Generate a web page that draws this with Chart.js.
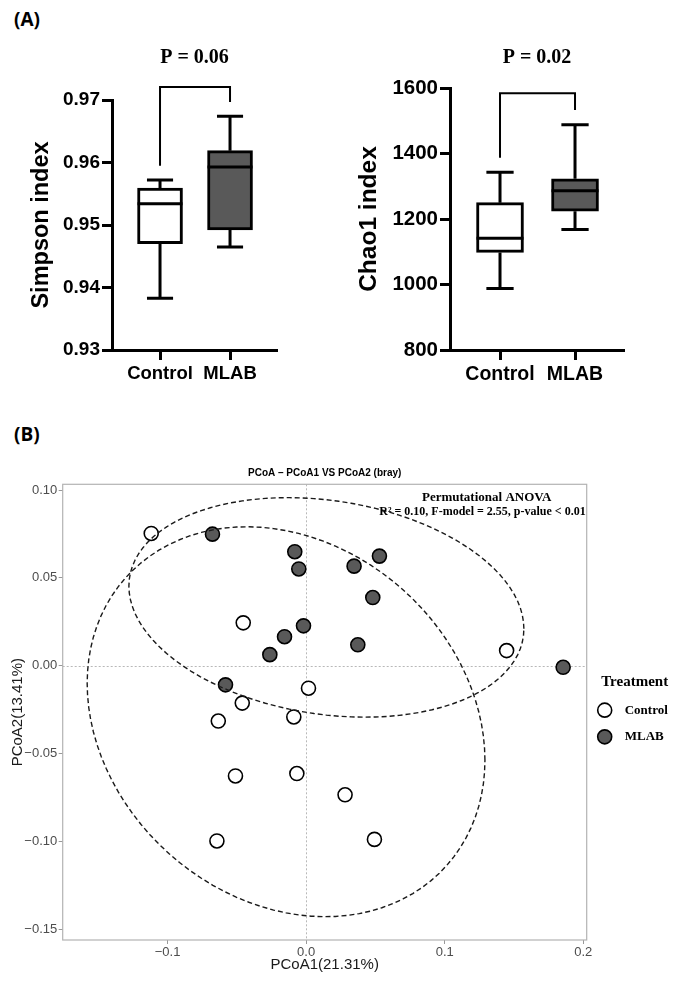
<!DOCTYPE html>
<html>
<head>
<meta charset="utf-8">
<script src="https://cdn.jsdelivr.net/npm/chart.js@4.4.0/dist/chart.umd.min.js"></script>
<style>
  body { margin: 0; background: #fff; width: 678px; height: 985px; position: relative; overflow: hidden; }
  .tag { position: absolute; font: bold 19px "Open Sans", Arial, sans-serif; color: #000; }
  canvas { position: absolute; }
</style>
</head>
<body>
<div class="tag" style="left:14px; top:6px;">(A)</div>
<div class="tag" style="left:14px; top:421px;">(B)</div>
<canvas id="simpsonChart" width="330" height="400" style="left:0; top:0;"></canvas>
<canvas id="chao1Chart" width="348" height="400" style="left:330px; top:0;"></canvas>
<canvas id="pcoaChart" width="678" height="545" style="left:0; top:440px;"></canvas>
<script>
// ---- data (A) box plots ----
const groups = ["Control", "MLAB"];

const simpsonMin    = [0.9383, 0.9465];
const simpsonQ1     = [0.9470, 0.9492];
const simpsonMedian = [0.9534, 0.9593];
const simpsonQ3     = [0.9559, 0.9619];
const simpsonMax    = [0.9572, 0.9674];
const simpsonTicks  = [0.93, 0.94, 0.95, 0.96, 0.97];

const chao1Min    = [988, 1168];
const chao1Q1     = [1098, 1224];
const chao1Median = [1141, 1286];
const chao1Q3     = [1250, 1323];
const chao1Max    = [1343, 1488];
const chao1Ticks  = [800, 1000, 1200, 1400, 1600];

// ---- data (B) PCoA ----
const controlPC1 = [-0.1118, -0.0454, 0.1447, 0.0017, -0.0461, -0.0634, -0.0089, -0.0510, -0.0067, -0.0644, 0.0281, 0.0493];
const controlPC2 = [0.0753, 0.0244, 0.0086, -0.0128, -0.0213, -0.0315, -0.0292, -0.0628, -0.0614, -0.0998, -0.0735, -0.0989];
const mlabPC1 = [-0.0676, -0.0082, -0.0053, -0.0019, -0.0156, -0.0262, 0.0529, 0.0346, 0.0481, 0.0373, 0.1855, -0.0582];
const mlabPC2 = [0.0749, 0.0649, 0.0551, 0.0227, 0.0165, 0.0063, 0.0624, 0.0567, 0.0388, 0.0119, -0.0009, -0.0109];
const pc1Ticks = [-0.1, 0.0, 0.1, 0.2];
const pc2Ticks = [-0.15, -0.10, -0.05, 0.00, 0.05, 0.10];

const SANS = '"Liberation Sans", Arial, sans-serif';
const SERIF = '"Liberation Serif", "Times New Roman", serif';

// whiskers, medians and the significance bracket, drawn through the chart scales
const boxWhiskers = {
    id: "boxWhiskers",
    afterDatasetsDraw(chart, args, o) {
        const { ctx, scales: { x, y } } = chart;
        const meta = chart.getDatasetMeta(0);
        ctx.save();
        ctx.strokeStyle = "#000";
        ctx.lineWidth = 3;
        meta.data.forEach((bar, i) => {
            const cx = bar.x, half = bar.width / 2, cap = half * 0.58;
            const yMin = y.getPixelForValue(o.min[i]);
            const yMax = y.getPixelForValue(o.max[i]);
            const yQ1 = y.getPixelForValue(o.q1[i]);
            const yQ3 = y.getPixelForValue(o.q3[i]);
            const yMed = y.getPixelForValue(o.median[i]);
            ctx.beginPath();
            ctx.moveTo(cx, yQ3); ctx.lineTo(cx, yMax);
            ctx.moveTo(cx - cap, yMax); ctx.lineTo(cx + cap, yMax);
            ctx.moveTo(cx, yQ1); ctx.lineTo(cx, yMin);
            ctx.moveTo(cx - cap, yMin); ctx.lineTo(cx + cap, yMin);
            ctx.moveTo(cx - half, yMed); ctx.lineTo(cx + half, yMed);
            ctx.stroke();
        });
        // bracket
        const b = o.bracket;
        const x1 = x.getPixelForValue(1), x2 = x.getPixelForValue(2);
        ctx.lineWidth = 2;
        ctx.beginPath();
        ctx.moveTo(x1, y.getPixelForValue(b.left));
        ctx.lineTo(x1, y.getPixelForValue(b.top));
        ctx.lineTo(x2, y.getPixelForValue(b.top));
        ctx.lineTo(x2, y.getPixelForValue(b.right));
        ctx.stroke();
        ctx.restore();
    }
};

function boxChart(id, s) {
    return new Chart(document.getElementById(id).getContext("2d"), {
        type: "bar",
        data: {
            datasets: [{
                data: groups.map((g, i) => ({ x: i + 1, y: [s.q1[i], s.q3[i]] })),
                backgroundColor: ["#ffffff", "#595959"],
                borderColor: "#000",
                borderWidth: 3,
                borderSkipped: false,
                barThickness: s.boxWidth,
            }],
        },
        options: {
            responsive: false,
            animation: false,
            layout: { padding: { left: 0, right: s.padRight, top: 0, bottom: 0 } },
            plugins: {
                legend: { display: false },
                tooltip: { enabled: false },
                title: {
                    display: true,
                    text: s.pText,
                    fullSize: false,
                    color: "#000",
                    font: { family: SERIF, size: 20, weight: "bold" },
                    padding: { top: 46, bottom: s.titleBottom },
                },
                boxWhiskers: { min: s.min, q1: s.q1, median: s.median, q3: s.q3, max: s.max, bracket: s.bracket },
            },
            scales: {
                x: {
                    type: "linear",
                    min: s.xMin,
                    max: s.xMax,
                    offset: false,
                    afterBuildTicks: sc => { sc.ticks = groups.map((g, i) => ({ value: i + 1 })); },
                    afterFit: sc => { sc.height = 50; },
                    ticks: {
                        callback: v => groups[v - 1],
                        color: "#000",
                        font: { family: SANS, size: s.catSize, weight: "bold" },
                        padding: 3,
                        maxRotation: 0,
                        autoSkip: false,
                    },
                    grid: { drawOnChartArea: false, tickLength: 10, tickWidth: 3, tickColor: "#000", offset: false },
                    border: { display: true, color: "#000", width: 3 },
                },
                y: {
                    min: s.ticks[0],
                    max: s.ticks[s.ticks.length - 1],
                    afterBuildTicks: sc => { sc.ticks = s.ticks.map(v => ({ value: v })); },
                    afterFit: sc => { sc.width = s.axisLeft; },
                    ticks: {
                        callback: s.fmt,
                        color: "#000",
                        font: { family: SANS, size: s.tickSize, weight: "bold" },
                        padding: 2,
                    },
                    grid: { drawOnChartArea: false, tickLength: 10, tickWidth: 3, tickColor: "#000" },
                    border: { display: true, color: "#000", width: 3 },
                    title: {
                        display: true,
                        text: s.yTitle,
                        color: "#000",
                        font: { family: SANS, size: s.titleSize, weight: "bold" },
                        padding: { top: s.yTitlePad, bottom: 0 },
                    },
                },
            },
        },
        plugins: [boxWhiskers],
    });
}

boxChart("simpsonChart", {
    min: simpsonMin, q1: simpsonQ1, median: simpsonMedian, q3: simpsonQ3, max: simpsonMax,
    ticks: simpsonTicks, fmt: v => v.toFixed(2),
    pText: "P = 0.06", titleBottom: 30,
    bracket: { top: 0.9721, left: 0.9595, right: 0.9697 },
    xMin: 0.314, xMax: 2.671, boxWidth: 45, padRight: 53, axisLeft: 112,
    yTitle: "Simpson index", titleSize: 23.5, yTitlePad: 27,
    tickSize: 19, catSize: 18.5,
});

boxChart("chao1Chart", {
    min: chao1Min, q1: chao1Q1, median: chao1Median, q3: chao1Q3, max: chao1Max,
    ticks: chao1Ticks, fmt: v => String(v),
    pText: "P = 0.02", titleBottom: 18,
    bracket: { top: 1584, left: 1387, right: 1533 },
    xMin: 0.3333, xMax: 2.653, boxWidth: 47, padRight: 54, axisLeft: 120,
    yTitle: "Chao1 index", titleSize: 24.5, yTitlePad: 25,
    tickSize: 20.5, catSize: 19.5,
});

// ---- group confidence ellipse: sample covariance, chi-square(2) 90% radius ----
function groupEllipse(xs, ys, level = 0.9, segments = 100) {
    const n = xs.length;
    const mx = xs.reduce((s, v) => s + v, 0) / n;
    const my = ys.reduce((s, v) => s + v, 0) / n;
    let a = 0, b = 0, c = 0;
    xs.forEach((x, i) => {
        const dx = x - mx, dy = ys[i] - my;
        a += dx * dx; b += dx * dy; c += dy * dy;
    });
    a /= n - 1; b /= n - 1; c /= n - 1;
    const radius = Math.sqrt(-2 * Math.log(1 - level));
    const r11 = Math.sqrt(a), r12 = b / r11, r22 = Math.sqrt(c - r12 * r12);
    const pts = [];
    for (let k = 0; k <= segments; k++) {
        const t = (k / segments) * 2 * Math.PI;
        const u = Math.cos(t), v = Math.sin(t);
        pts.push({ x: mx + radius * u * r11, y: my + radius * (u * r12 + v * r22) });
    }
    return pts;
}

const minus = s => s.replace("-", "\u2212");

const pcoaDecor = {
    id: "pcoaDecor",
    beforeDatasetsDraw(chart) {
        const { ctx, chartArea: ca, scales: { x, y } } = chart;
        ctx.save();
        ctx.strokeStyle = "#b8b8b8";
        ctx.lineWidth = 1;
        ctx.setLineDash([2, 2]);
        ctx.beginPath();
        const x0 = Math.round(x.getPixelForValue(0)) + 0.5;
        const y0 = Math.round(y.getPixelForValue(0)) + 0.5;
        ctx.moveTo(x0, ca.top); ctx.lineTo(x0, ca.bottom);
        ctx.moveTo(ca.left, y0); ctx.lineTo(ca.right, y0);
        ctx.stroke();
        ctx.restore();
    },
    afterDraw(chart) {
        const { ctx, chartArea: ca } = chart;
        ctx.save();
        ctx.strokeStyle = "#b3b3b3";
        ctx.lineWidth = 1.2;
        ctx.strokeRect(ca.left, ca.top, ca.right - ca.left, ca.bottom - ca.top);

        // PERMANOVA note
        ctx.fillStyle = "#000";
        ctx.textBaseline = "middle";
        ctx.textAlign = "center";
        ctx.font = "bold 13px " + SERIF;
        ctx.fillText("Permutational ANOVA", ca.right - 100, ca.top + 13);
        ctx.font = "bold 12px " + SERIF;
        ctx.textAlign = "right";
        ctx.fillText("R\u00b2 = 0.10, F-model = 2.55, p-value < 0.01", ca.right - 1, ca.top + 28);

        // legend
        const mid = (ca.top + ca.bottom) / 2;
        ctx.textAlign = "left";
        ctx.font = "bold 15px " + SERIF;
        ctx.fillText("Treatment", ca.right + 14.5, mid - 30.5);
        chart.data.datasets.slice(0, 2).forEach((ds, i) => {
            const cy = mid - 2 + i * 26.7;
            ctx.beginPath();
            ctx.arc(ca.right + 18, cy, 7, 0, 2 * Math.PI);
            ctx.fillStyle = ds.backgroundColor;
            ctx.fill();
            ctx.lineWidth = 1.6;
            ctx.strokeStyle = "#000";
            ctx.stroke();
            ctx.fillStyle = "#000";
            ctx.font = "bold 13px " + SERIF;
            ctx.fillText(ds.label, ca.right + 38, cy);
        });
        ctx.restore();
    }
};

const pointStyle = { pointRadius: 7, pointBorderWidth: 1.6, borderColor: "#000", pointBorderColor: "#000" };
const ellipseStyle = { showLine: true, pointRadius: 0, borderColor: "#1a1a1a", borderWidth: 1.4, borderDash: [5, 3], fill: false };

new Chart(document.getElementById("pcoaChart").getContext("2d"), {
    type: "scatter",
    data: {
        datasets: [
            { label: "Control", data: controlPC1.map((x, i) => ({ x, y: controlPC2[i] })), backgroundColor: "#ffffff", pointBackgroundColor: "#ffffff", order: 3, ...pointStyle },
            { label: "MLAB", data: mlabPC1.map((x, i) => ({ x, y: mlabPC2[i] })), backgroundColor: "#595959", pointBackgroundColor: "#595959", order: 2, ...pointStyle },
            { label: "Control ellipse", data: groupEllipse(controlPC1, controlPC2), order: 1, ...ellipseStyle },
            { label: "MLAB ellipse", data: groupEllipse(mlabPC1, mlabPC2), order: 0, ...ellipseStyle },
        ],
    },
    options: {
        responsive: false,
        animation: false,
        layout: { padding: { left: 0, right: 91.3, top: 0, bottom: 0 } },
        plugins: {
            legend: { display: false },
            tooltip: { enabled: false },
            title: {
                display: true,
                text: "PCoA \u2013 PCoA1 VS PCoA2 (bray)",
                fullSize: false,
                color: "#000",
                font: { family: SANS, size: 10, weight: "bold" },
                padding: { top: 27, bottom: 5.3 },
            },
        },
        scales: {
            x: {
                type: "linear",
                min: -0.1757,
                max: 0.2025,
                afterBuildTicks: sc => { sc.ticks = pc1Ticks.map(v => ({ value: v })); },
                afterFit: sc => { sc.height = 45; },
                ticks: { callback: v => minus(v.toFixed(1)), color: "#4d4d4d", font: { family: SANS, size: 13 }, padding: 1, maxRotation: 0 },
                grid: { drawOnChartArea: false, tickLength: 4, tickColor: "#999", tickWidth: 1 },
                border: { display: false },
                title: { display: true, text: "PCoA1(21.31%)", color: "#1a1a1a", font: { family: SANS, size: 15 }, padding: { top: 0, bottom: 11 } },
            },
            y: {
                min: -0.1562,
                max: 0.1033,
                afterBuildTicks: sc => { sc.ticks = pc2Ticks.map(v => ({ value: v })); },
                afterFit: sc => { sc.width = 62.7; },
                ticks: { callback: v => minus(v.toFixed(2)), color: "#4d4d4d", font: { family: SANS, size: 13 }, padding: 1.5 },
                grid: { drawOnChartArea: false, tickLength: 4, tickColor: "#999", tickWidth: 1 },
                border: { display: false },
                title: { display: true, text: "PCoA2(13.41%)", color: "#1a1a1a", font: { family: SANS, size: 15 }, padding: { top: 8.5, bottom: 0 } },
            },
        },
    },
    plugins: [pcoaDecor],
});
</script>
</body>
</html>
